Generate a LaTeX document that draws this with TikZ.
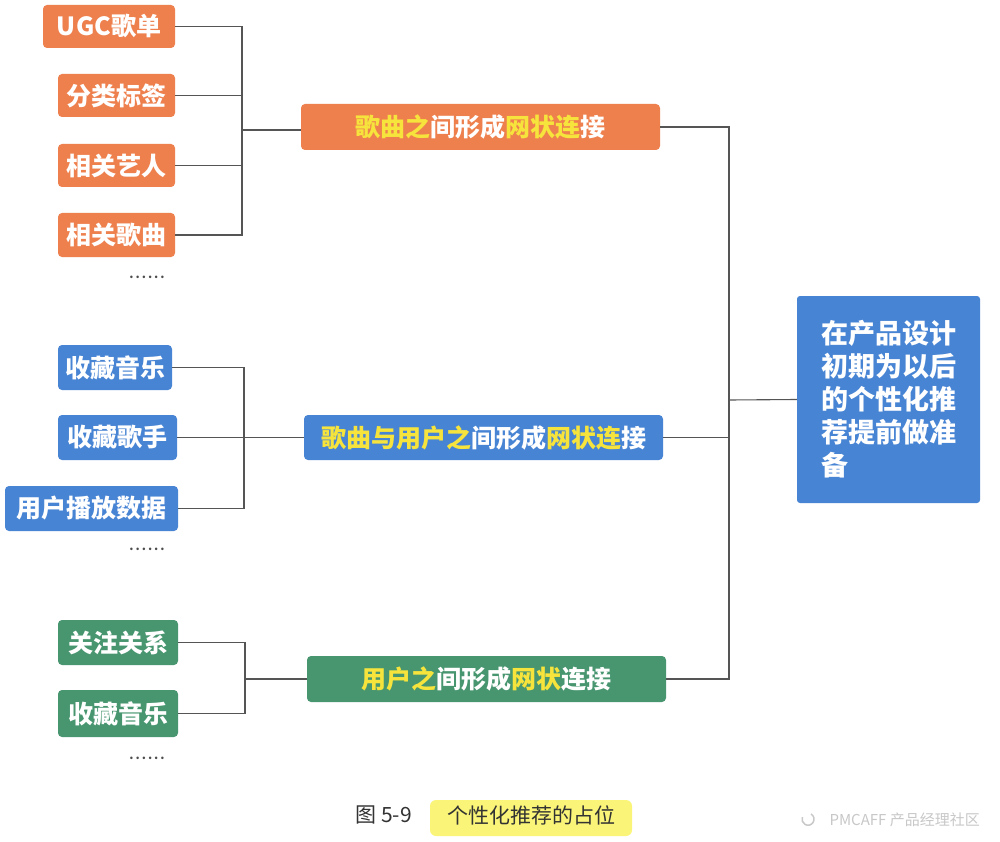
\documentclass[tikz,border=0pt]{standalone}
\usepackage{fontspec}
\setmainfont{Noto Sans CJK SC}
\usetikzlibrary{calc}
\definecolor{org}{RGB}{238,128,78}
\definecolor{blu}{RGB}{72,132,212}
\definecolor{grn}{RGB}{72,150,112}
\definecolor{hl}{RGB}{246,228,60}
\definecolor{ln}{RGB}{85,85,85}
\definecolor{marker}{RGB}{250,245,120}
\definecolor{wm}{RGB}{200,200,200}
\newcommand{\yl}[1]{\textcolor{hl}{#1}}
\tikzset{
  box/.style={rounded corners=4pt, text=white, inner sep=0pt, align=center,
    font=\fontsize{25}{28}\selectfont\bfseries},
  obox/.style={box, fill=org},
  bbox/.style={box, fill=blu},
  gbox/.style={box, fill=grn},
  conn/.style={draw=ln, line width=1.1pt},
  dots/.style={font=\fontsize{12}{12}\selectfont\bfseries, text=black!70}
}
\begin{document}
\begin{tikzpicture}[x=1pt,y=-1pt]
\useasboundingbox (0,0) rectangle (1000,842);
\fill[white] (0,0) rectangle (1000,842);
% orange group
\node[obox, minimum width=132, minimum height=43] (ugc) at (109,26.5) {UGC歌单};
\node[obox, minimum width=117, minimum height=43] (fl) at (116.5,95.5) {分类标签};
\node[obox, minimum width=117, minimum height=43] (yr) at (116.5,165.5) {相关艺人};
\node[obox, minimum width=117, minimum height=44] (gq) at (116.5,235) {相关歌曲};
\node[dots] (d1) at (147,277) {.\,.\,.\,.\,.\,.};
\node[obox, minimum width=359, minimum height=46] (m1) at (480.5,127)
  {\yl{歌曲之}间形成\yl{网状连}接};
% blue group
\node[bbox, minimum width=114, minimum height=45] (sc1) at (115,367.5) {收藏音乐};
\node[bbox, minimum width=119, minimum height=45] (sc2) at (117.5,437.5) {收藏歌手};
\node[bbox, minimum width=173, minimum height=45] (bf) at (91.5,508.5) {用户播放数据};
\node[dots] (d2) at (147,549) {.\,.\,.\,.\,.\,.};
\node[bbox, minimum width=359, minimum height=45] (m2) at (483.5,437.5)
  {\yl{歌曲与用户之}间形成\yl{网状连}接};
% green group
\node[gbox, minimum width=120, minimum height=45] (gz) at (118,642.5) {关注关系};
\node[gbox, minimum width=120, minimum height=47] (sc3) at (118,713.5) {收藏音乐};
\node[dots] (d3) at (147,758) {.\,.\,.\,.\,.\,.};
\node[gbox, minimum width=359, minimum height=46] (m3) at (486.5,679)
  {\yl{用户之}间形成\yl{网状}连接};
% goal
\node[box, fill=blu, minimum width=183, minimum height=207, align=left,
  font=\fontsize{27}{33}\selectfont\bfseries, rounded corners=3pt] (goal) at (888.5,399.5)
  {在产品设计\\初期为以后\\的个性化推\\荐提前做准\\备};
% junctions
\coordinate (j1) at (242,130);
\coordinate (j2) at (244,437.5);
\coordinate (j3) at (245,679);
\coordinate (j4) at (729,400);
% connectors
\draw[conn] (ugc.east) -| (j1);
\draw[conn] (fl.east) -| (j1);
\draw[conn] (yr.east) -| (j1);
\draw[conn] (gq.east) -| (j1);
\draw[conn] (j1) -- (j1 -| m1.west);
\draw[conn] (sc1.east) -| (j2);
\draw[conn] (sc2.east) -- (sc2.east -| m2.west);
\draw[conn] (bf.east) -| (j2);
\draw[conn] (gz.east) -| (j3);
\draw[conn] (sc3.east) -| (j3);
\draw[conn] (j3) -- (m3.west);
\draw[conn] (m1.east) -| (j4);
\draw[conn] (m2.east) -| (j4);
\draw[conn] (m3.east) -| (j4);
\draw[conn] (j4) -- (goal.west);
% caption
\fill[marker, rounded corners=6pt] (430,800) rectangle (632,836);
\node[anchor=west, font=\fontsize{21}{24}\selectfont, text=black!80] (cap1) at (352,815) {图 5-9};
\node[anchor=west, font=\fontsize{21}{24}\selectfont, text=black!80] (cap2) at (444,815) {个性化推荐的占位};
\node[anchor=west, font=\fontsize{15}{17}\selectfont, text=wm] (wmk) at (826,820) {PMCAFF 产品经理社区};
\draw[wm, line width=1.5pt] (811,814) arc (-60:200:6);
\end{tikzpicture}
\end{document}
